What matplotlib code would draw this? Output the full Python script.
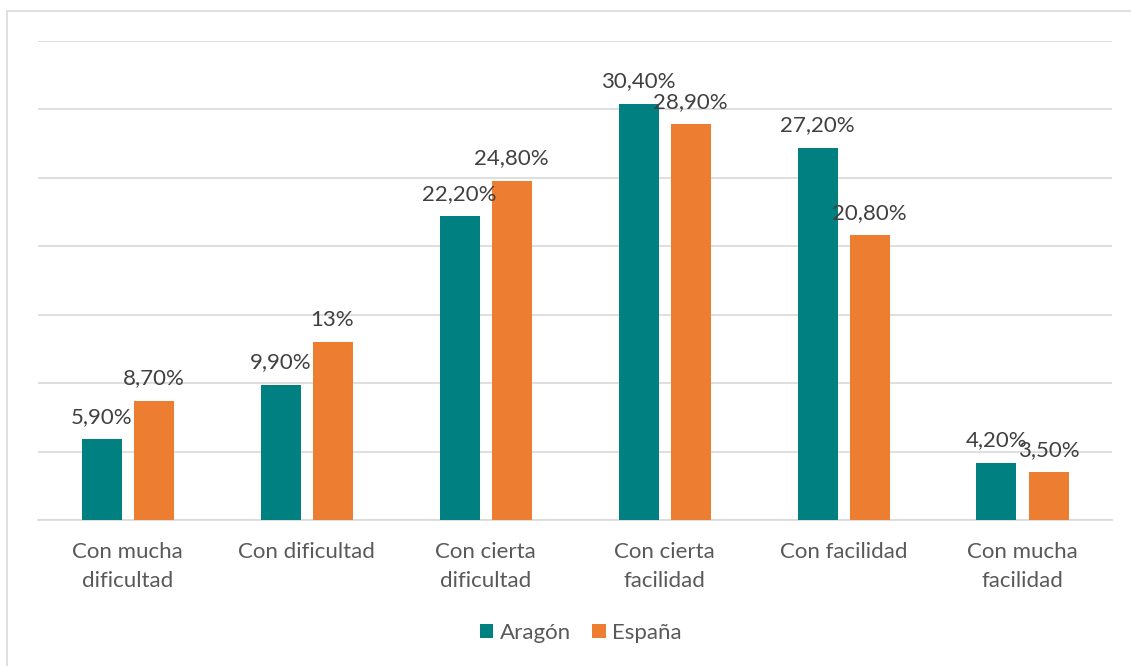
import numpy as np
import matplotlib.pyplot as plt
from matplotlib.patches import Rectangle

plt.rcParams['font.family'] = ['Lato', 'DejaVu Sans']

categorias = ['Con mucha\ndificultad', 'Con dificultad', 'Con cierta\ndificultad',
              'Con cierta\nfacilidad', 'Con facilidad', 'Con mucha\nfacilidad']
aragon = [5.9, 9.9, 22.2, 30.4, 27.2, 4.2]
espana = [8.7, 13.0, 24.8, 28.9, 20.8, 3.5]
etiq_aragon = ['5,90%', '9,90%', '22,20%', '30,40%', '27,20%', '4,20%']
etiq_espana = ['8,70%', '13%', '24,80%', '28,90%', '20,80%', '3,50%']

col_aragon = '#008080'
col_espana = '#ED7D31'
gris_texto = '#595959'

W, H = 1131, 666
fig = plt.figure(figsize=(W / 100, H / 100), dpi=100)
ax = fig.add_axes([38 / W, 1 - 520 / H, (1112 - 38) / W, (520 - 41) / H])

# marco del grafico (solo se ven borde superior e izquierdo)
fig.patches.append(Rectangle((7 / W, -0.1), 1.2, 1 - 11 / H + 0.1,
                             transform=fig.transFigure, fill=False,
                             edgecolor='#d9d9d9', linewidth=1.2))

x = np.arange(len(categorias))
ancho = 40 / 179
desp = 26 / 179

b1 = ax.bar(x - desp, aragon, ancho, color=col_aragon, label='Aragón', zorder=3)
b2 = ax.bar(x + desp, espana, ancho, color=col_espana, label='España', zorder=3)

for barras, etiquetas in ((b1, etiq_aragon), (b2, etiq_espana)):
    for b, t in zip(barras, etiquetas):
        ax.annotate(t, (b.get_x() + b.get_width() / 2, b.get_height()),
                    xytext=(0, 9), textcoords='offset points',
                    ha='center', va='bottom', fontsize=16, color='#404040', zorder=4)

ax.set_xlim(-0.5, len(categorias) - 0.5)
ax.set_ylim(0, 35)
ax.set_yticks(np.arange(0, 36, 5))
ax.yaxis.grid(True, color='#d9d9d9', linewidth=1.2, zorder=0)
ax.tick_params(axis='y', left=False, labelleft=False)
ax.tick_params(axis='x', bottom=False, pad=12, labelsize=16, labelcolor=gris_texto)
ax.set_xticks(x)
ax.set_xticklabels(categorias, linespacing=1.57)
for s in ['top', 'right', 'left']:
    ax.spines[s].set_visible(False)
ax.spines['bottom'].set_color('#d9d9d9')
ax.spines['bottom'].set_linewidth(1.2)

fig.legend(loc='center', bbox_to_anchor=(581 / W, 1 - 633 / H), ncol=2,
           frameon=False, fontsize=16, labelcolor=gris_texto,
           handlelength=0.6, handleheight=0.6, handletextpad=0.3, columnspacing=0.95)

fig.savefig('out.png', dpi=100)
